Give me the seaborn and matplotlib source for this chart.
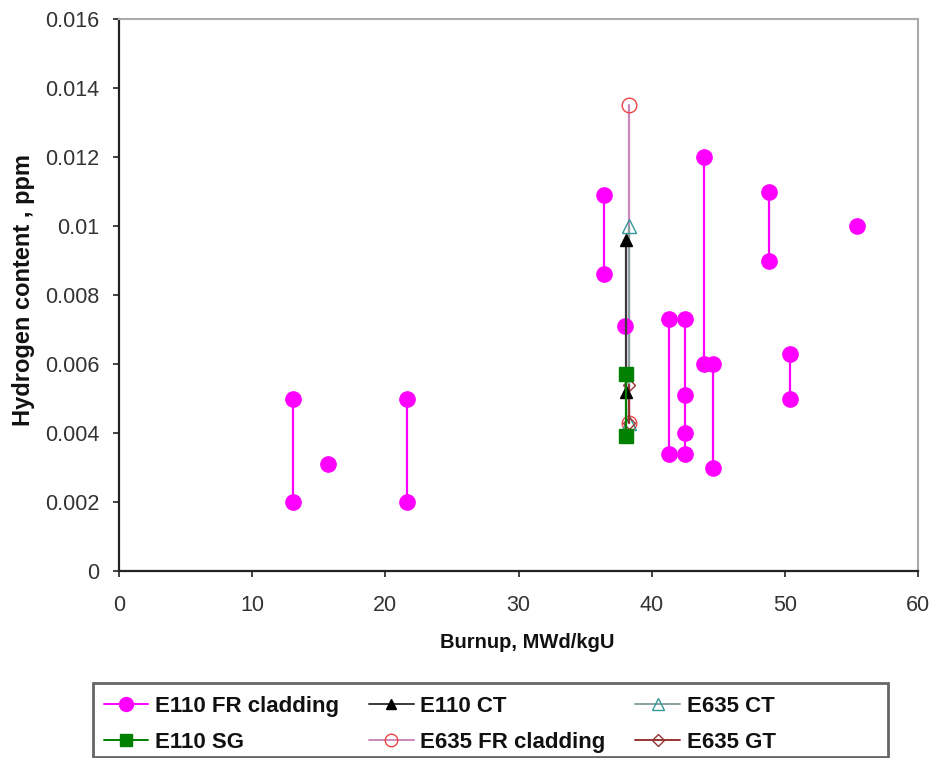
import numpy as np
import pandas as pd
import matplotlib
matplotlib.use("Agg")
import matplotlib.pyplot as plt
from matplotlib.lines import Line2D
from matplotlib.patches import Rectangle
import seaborn as sns

# ---- data (group id separates the vertical segments) ----
fr110_x = [13.1, 13.1, 15.7, 21.6, 21.6, 36.4, 36.4, 38.0, 41.3, 41.3,
           42.5, 42.5, 42.5, 42.5, 43.9, 43.9, 44.6, 44.6, 48.8, 48.8,
           50.4, 50.4, 55.4]
fr110_y = [0.005, 0.002, 0.0031, 0.005, 0.002, 0.0109, 0.0086, 0.0071, 0.0073, 0.0034,
           0.0073, 0.0051, 0.0040, 0.0034, 0.0120, 0.0060, 0.0060, 0.0030, 0.0110, 0.0090,
           0.0063, 0.0050, 0.0100]
fr110_g = [1, 1, 2, 3, 3, 4, 4, 5, 6, 6,
           7, 7, 7, 7, 8, 8, 9, 9, 10, 10,
           11, 11, 12]

ct110_x = [38.1, 38.1]
ct110_y = [0.0096, 0.0052]
sg110_x = [38.1, 38.1]
sg110_y = [0.0057, 0.0039]
ct635_x = [38.3, 38.3]
ct635_y = [0.0100, 0.0043]
fr635_x = [38.3, 38.3]
fr635_y = [0.0135, 0.0043]
gt635_x = [38.3, 38.3]
gt635_y = [0.0054, 0.0043]

series_names = ["E110 FR cladding", "E110 CT", "E635 CT",
                "E110 SG", "E635 FR cladding", "E635 GT"]
y_ticks = [0, 0.002, 0.004, 0.006, 0.008, 0.010, 0.012, 0.014, 0.016]
y_tick_labels = ["0", "0.002", "0.004", "0.006", "0.008", "0.01", "0.012", "0.014", "0.016"]
x_ticks = [0, 10, 20, 30, 40, 50, 60]

sns.set_style("ticks")
plt.rcParams['font.family'] = ['Liberation Sans', 'DejaVu Sans']

W, H = 933, 758
fig = plt.figure(figsize=(W / 100, H / 100), dpi=100)
L, R, T, B = 119, 918, 19, 571
ax = fig.add_axes([L / W, 1 - B / H, (R - L) / W, (B - T) / H])

df_fr = pd.DataFrame({"x": fr110_x, "y": fr110_y, "g": fr110_g})

styles = {
    "E110 FR cladding": dict(marker="o", mfc="#FF00FF", mec="#FF00FF", ms=11, lc="#FF00FF", lms=10),
    "E110 CT": dict(marker="^", mfc="black", mec="black", ms=9, lc="#3a3a3a", lms=7),
    "E635 CT": dict(marker="^", mfc="none", mec="#339999", ms=10, lc="#8aa0a0", lms=9),
    "E110 SG": dict(marker="s", mfc="#008000", mec="#008000", ms=10.5, lc="#008000", lms=8),
    "E635 FR cladding": dict(marker="o", mfc="none", mec="#EE4444", ms=10.5, lc="#CC88BB", lms=9),
    "E635 GT": dict(marker="D", mfc="none", mec="#993333", ms=6.5, lc="#993333", lms=6),
}

def draw(df, name, z):
    st = styles[name]
    sns.lineplot(data=df, x="x", y="y", units="g", estimator=None, sort=False,
                 ax=ax, color=st["lc"], lw=1.6, marker=st["marker"], ms=st["ms"],
                 markerfacecolor=st["mfc"], markeredgecolor=st["mec"], markeredgewidth=1.0,
                 zorder=z, legend=False)

draw(df_fr, "E110 FR cladding", 3)
draw(pd.DataFrame({"x": fr635_x, "y": fr635_y, "g": 1}), "E635 FR cladding", 2)
draw(pd.DataFrame({"x": ct635_x, "y": ct635_y, "g": 1}), "E635 CT", 2)
draw(pd.DataFrame({"x": gt635_x, "y": gt635_y, "g": 1}), "E635 GT", 4)
draw(pd.DataFrame({"x": ct110_x, "y": ct110_y, "g": 1}), "E110 CT", 4)
draw(pd.DataFrame({"x": sg110_x, "y": sg110_y, "g": 1}), "E110 SG", 5)

ax.set_xlim(0, 60)
ax.set_ylim(0, 0.016)
ax.set_xticks(x_ticks)
ax.set_xticklabels([str(t) for t in x_ticks], fontsize=15.5, color="#333333")
ax.set_yticks(y_ticks)
ax.set_yticklabels(y_tick_labels, fontsize=15.5, color="#333333")
ax.tick_params(axis="both", direction="out", length=4.5, width=1.2, colors="#222222")
ax.tick_params(axis="y", pad=9.4, labelcolor="#333333")
ax.tick_params(axis="x", pad=12.5, labelcolor="#333333")
ax.set_xlabel("Burnup, MWd/kgU", fontsize=14.5, fontweight="bold", va="center", color="#111111")
ax.set_ylabel("Hydrogen content , ppm", fontsize=17, fontweight="bold", va="center", color="#111111")
ax.xaxis.set_label_coords((527 - L) / (R - L), (B - 643) / (B - T))
ax.yaxis.set_label_coords((23 - L) / (R - L), (B - 290) / (B - T))
for s in ["left", "bottom"]:
    ax.spines[s].set_color("#222222")
    ax.spines[s].set_linewidth(1.6)
for s in ["top", "right"]:
    ax.spines[s].set_visible(True)
    ax.spines[s].set_color("#aaaaaa")
    ax.spines[s].set_linewidth(1.5)

# legend (column-major order so rows read like the reference)
order = ["E110 FR cladding", "E110 SG", "E110 CT", "E635 FR cladding", "E635 CT", "E635 GT"]
handles = []
for name in order:
    st = styles[name]
    handles.append(Line2D([0], [0], color=st["lc"], lw=1.4, marker=st["marker"], ms=st["lms"],
                          markerfacecolor=st["mfc"], markeredgecolor=st["mec"]))
fig.patches.append(Rectangle((93 / W, 1 - 757 / H), (888 - 93) / W, (757 - 683) / H,
                             transform=fig.transFigure, fill=False, edgecolor="#666666",
                             linewidth=2.0, zorder=0))
leg = fig.legend(handles, order, ncol=3, loc="upper left",
                 bbox_to_anchor=(104 / W, 1 - 696 / H),
                 frameon=False, prop={"size": 16, "weight": "bold"},
                 handlelength=2.0, handletextpad=0.3, borderaxespad=0.0, labelspacing=0.68,
                 borderpad=0.0, columnspacing=1.35)
for t in leg.get_texts():
    t.set_color("#111111")

fig.savefig("out.png", dpi=100)
